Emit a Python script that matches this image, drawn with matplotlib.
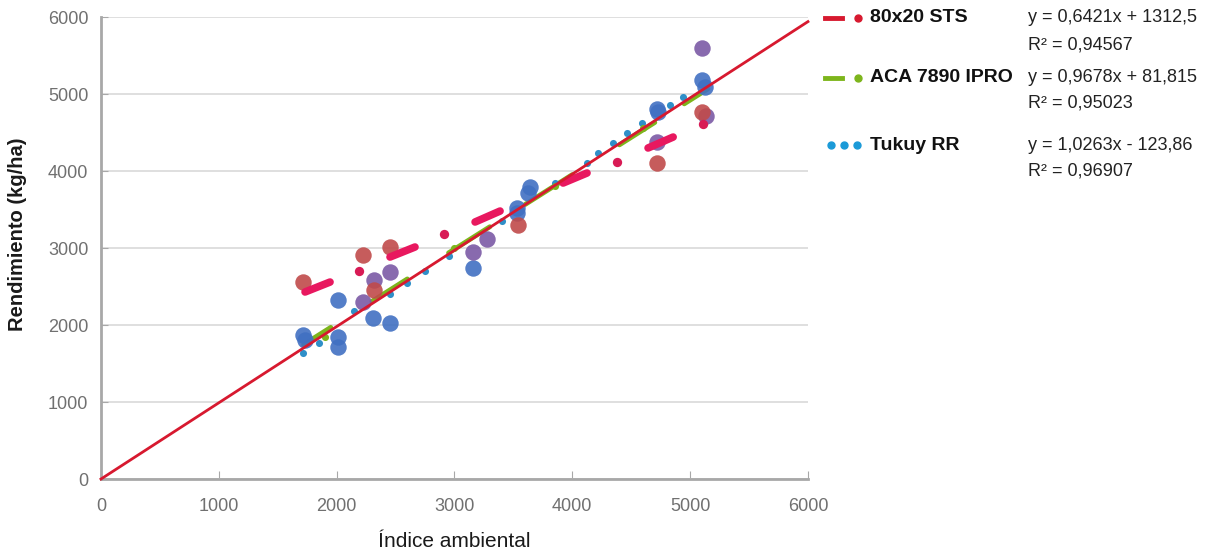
import matplotlib
matplotlib.use("Agg")
import matplotlib.pyplot as plt

plt.rcParams['font.family'] = ['Liberation Sans', 'DejaVu Sans']

# big circles (environment means)
blue_x = [1715, 1732, 2012, 2012, 2012, 2309, 2453, 3158, 3531, 3531, 3625, 3642, 4720, 4730, 5102, 5127]
blue_y = [1870, 1800, 2325, 1844, 1714, 2090, 2026, 2740, 3519, 3450, 3714, 3792, 4805, 4760, 5182, 5091]
purple_x = [2453, 2317, 2224, 3158, 3277, 5102, 4720, 5136]
purple_y = [2688, 2584, 2299, 2948, 3117, 5597, 4377, 4714]
brown_x = [1715, 2224, 2453, 2317, 3540, 4720, 5102]
brown_y = [2558, 2909, 3013, 2455, 3299, 4104, 4766]

# small dots
tukuy_x = [1715, 1850, 2150, 2450, 2600, 2750, 2950, 3400, 3850, 4125, 4219, 4346, 4465, 4593, 4830, 4941]
tukuy_y = [1636, 1760, 2180, 2400, 2550, 2700, 2900, 3350, 3850, 4104, 4234, 4364, 4494, 4623, 4857, 4961]
aca_x = [1900, 3000, 3850, 4600]
aca_y = [1850, 3000, 3800, 4560]
sts_x = [2190, 2912, 4380, 5110]
sts_y = [2701, 3182, 4117, 4610]

# short segments (x0, x1, y0, y1)
sts_seg_x = [(1732, 1944), (2453, 2665), (3175, 3387), (3922, 4125), (4643, 4856)]
sts_seg_y = [(2429, 2558), (2883, 3013), (3338, 3480), (3844, 3974), (4299, 4441)]
aca_seg_x = [(1720, 1950), (2300, 2600), (2950, 3300), (3600, 4000), (4400, 4700), (4950, 5150)]

line_x = [0, 6000]
line_y = [0, 5940]

series = ['80x20 STS', 'ACA 7890 IPRO', 'Tukuy RR']
equations = ['y = 0,6421x + 1312,5', 'y = 0,9678x + 81,815', 'y = 1,0263x - 123,86']
r2 = ['R² = 0,94567', 'R² = 0,95023', 'R² = 0,96907']

c_red = '#d7192f'
c_pink = '#e8185f'
c_green = '#7db51c'
c_blue = '#1b9ad8'

fig = plt.figure(figsize=(12.05, 5.52), dpi=100)
ax = fig.add_axes([0.0838, 0.1322, 0.5867, 0.8370])

ax.set_xlim(0, 6000)
ax.set_ylim(0, 6000)
ax.set_xticks(range(0, 6001, 1000))
ax.set_yticks(range(0, 6001, 1000))
ax.grid(axis='y', color='#d9d9d9', linewidth=1.2)
ax.set_axisbelow(True)
for s in ['top', 'right']:
    ax.spines[s].set_visible(False)
for s in ['left', 'bottom']:
    ax.spines[s].set_color('#a8a8a8')
    ax.spines[s].set_linewidth(2)
ax.tick_params(axis='x', direction='in', length=6, color='#a8a8a8', pad=14,
               labelsize=13, labelcolor='#707070')
ax.tick_params(axis='y', direction='in', length=5, color='#a8a8a8', pad=9,
               labelsize=13, labelcolor='#707070')

for (x0, x1) in aca_seg_x:
    ax.plot([x0, x1], [0.9678 * x0 + 81.815, 0.9678 * x1 + 81.815], color=c_green,
            linewidth=3.5, solid_capstyle='round', zorder=2)

ax.scatter(blue_x, blue_y, s=140, color='#4170c2', alpha=0.9, linewidths=0, zorder=3)
ax.scatter(purple_x, purple_y, s=140, color='#7b5aa5', alpha=0.9, linewidths=0, zorder=3)
ax.scatter(brown_x, brown_y, s=140, color='#c04a4a', alpha=0.9, linewidths=0, zorder=3)

ax.scatter(tukuy_x, tukuy_y, s=26, color='#2f8fc8', linewidths=0, zorder=4)
ax.scatter(aca_x, aca_y, s=26, color=c_green, linewidths=0, zorder=4)
ax.scatter(sts_x, sts_y, s=45, color='#d81a55', linewidths=0, zorder=4)

for (x0, x1), (y0, y1) in zip(sts_seg_x, sts_seg_y):
    ax.plot([x0, x1], [y0, y1], color=c_pink, linewidth=5.5, solid_capstyle='round', zorder=4)

ax.plot(line_x, line_y, color=c_red, linewidth=2, zorder=5, clip_on=False)

ax.set_xlabel('Índice ambiental', fontsize=15, color='#1a1a1a', labelpad=12)
ax.set_ylabel('Rendimiento (kg/ha)', fontsize=14.5, fontweight='bold', color='#1a1a1a')
ax.yaxis.set_label_coords(-0.104, 0.53)

# legend drawn by hand on the right
leg_y = [0.968, 0.859, 0.737]
r2_y = [0.918, 0.814, 0.690]
colors = [c_red, c_green, c_blue]
for i in range(3):
    y = leg_y[i]
    if i < 2:
        fig.add_artist(plt.Line2D([0.685, 0.699], [y, y], color=colors[i], linewidth=3.5,
                                  transform=fig.transFigure))
        fig.add_artist(plt.Line2D([0.712], [y], marker='o', markersize=5, color=colors[i],
                                  linestyle='none', transform=fig.transFigure))
    else:
        fig.add_artist(plt.Line2D([0.6895, 0.7005, 0.7115], [y, y, y], marker='o', markersize=5,
                                  color=colors[i], linestyle='none', transform=fig.transFigure))
    if i == 0:
        fig.text(0.722, y, series[i], fontsize=14, fontweight='bold', va='center',
                 fontstretch='condensed', color='#111111')
    else:
        fig.text(0.722, y, series[i], fontsize=14, fontweight='bold', va='center', color='#111111')
    fig.text(0.853, y, equations[i], fontsize=13, va='center', color='#222222')
    fig.text(0.853, r2_y[i], r2[i], fontsize=13, va='center', color='#222222')

fig.savefig('out.png', dpi=100, facecolor='white')
